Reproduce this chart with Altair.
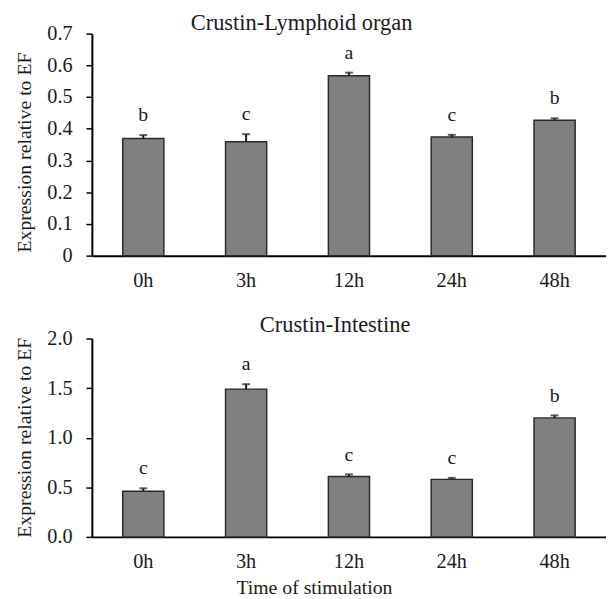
import altair as alt
import pandas as pd

times = ["0h", "3h", "12h", "24h", "48h"]

lymph_mean = [0.369, 0.359, 0.567, 0.374, 0.427]
lymph_err = [0.011, 0.024, 0.010, 0.007, 0.006]
lymph_letters = ["b", "c", "a", "c", "b"]

intest_mean = [0.46, 1.49, 0.61, 0.58, 1.20]
intest_err = [0.03, 0.05, 0.02, 0.015, 0.025]
intest_letters = ["c", "a", "c", "c", "b"]

FONT = "Liberation Serif"
W = 521


def panel(mean, err, letters, ymax, ystep, fmt, title, title_dx, title_offset,
          height, xtitle, ytitle_y):
    df = pd.DataFrame({
        "time": times,
        "mean": mean,
        "top": [m + e for m, e in zip(mean, err)],
        "letter": letters,
    })
    n = int(round(ymax / ystep))
    ticks = [round(i * ystep, 2) for i in range(n + 1)]
    x_axis = alt.Axis(
        labelAngle=0, ticks=False, labelPadding=25, labelBaseline="middle",
        labelFontSize=20.5, title=xtitle,
        titleX=225, titleY=51, titleBaseline="middle",
        titleFontSize=20, titleFontWeight="normal",
    )
    x_scale = alt.Scale(paddingInner=0.6, paddingOuter=0.3)
    y_scale = alt.Scale(domain=[0, ymax], nice=False)
    y_axis = alt.Axis(
        values=ticks, format=fmt, grid=False, tickSize=6, labelPadding=14,
        labelFontSize=20.5, title="Expression relative to EF",
        titleFontSize=20, titleFontWeight="normal",
        titleX=-68.5, titleY=ytitle_y, titleBaseline="middle", titleAngle=-90,
        labelOverlap=False,
    )

    def X():
        return alt.X("time:N", sort=times, scale=x_scale, axis=x_axis)

    def Y(field):
        return alt.Y(field, scale=y_scale, axis=y_axis)

    base = alt.Chart(df)
    bars = base.mark_bar(color="#808080", stroke="#2a2a2a", strokeWidth=1.5).encode(
        x=X(), y=Y("mean:Q")
    )
    rule = base.mark_rule(color="#1a1a1a", strokeWidth=2).encode(
        x=X(), y=Y("mean:Q"), y2="top:Q"
    )
    cap = base.mark_tick(color="#1a1a1a", size=8, thickness=2, orient="horizontal").encode(
        x=X(), y=Y("top:Q")
    )
    text = base.mark_text(font=FONT, fontSize=20, baseline="alphabetic", dy=-14,
                          color="#1a1a1a").encode(
        x=X(), y=Y("top:Q"), text="letter:N"
    )
    return alt.layer(bars, rule, cap, text).properties(
        width=W, height=height,
        title=alt.TitleParams(
            text=title, font=FONT, fontSize=22.7, fontWeight="normal",
            anchor="middle", frame="group", dx=title_dx, offset=title_offset,
            baseline="alphabetic", color="#1a1a1a",
        ),
    )


top = panel(lymph_mean, lymph_err, lymph_letters, 0.7, 0.1, "~g",
            "Crustin-Lymphoid organ", -48, -29, 225, None, 120)
bottom = panel(intest_mean, intest_err, intest_letters, 2.0, 0.5, ".1f",
               "Crustin-Intestine", -14, -26, 201, "Time of stimulation", 100)

chart = alt.vconcat(top, bottom, spacing=23).configure(
    font=FONT,
    padding={"left": 6, "top": 0, "right": 0, "bottom": 0},
).configure_view(stroke=None).configure_axis(
    labelFont=FONT, titleFont=FONT, labelColor="#1a1a1a", titleColor="#1a1a1a",
    domainColor="#000000", domainWidth=2, tickColor="#000000", tickWidth=1.5,
)

chart.save("out.html", embed_options={"renderer": "svg", "actions": False})
